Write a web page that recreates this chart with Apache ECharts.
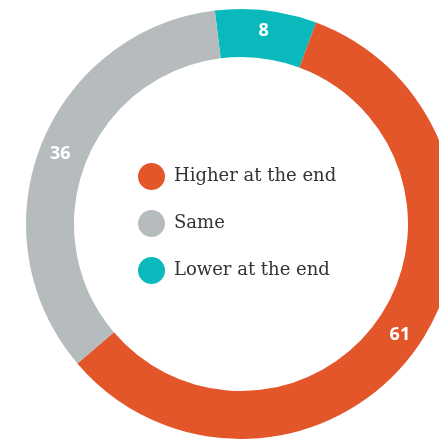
<!DOCTYPE html>
<html><head><meta charset="utf-8">
<script src="https://cdn.jsdelivr.net/npm/echarts@6/dist/echarts.min.js"></script>
<style>html,body{margin:0;padding:0;background:#fff}#c{width:439px;height:441px}</style>
</head><body><div id="c"></div>
<script>
const categories = ['Lower at the end', 'Higher at the end', 'Same'];
const values = [8, 61, 36];
const colors = ['#0AB9BC', '#E25629', '#B6BCBD'];
const legendOrder = ['Higher at the end', 'Same', 'Lower at the end'];

const chart = echarts.init(document.getElementById('c'));
chart.setOption({
  animation: false,
  legend: {
    data: legendOrder,
    orient: 'vertical',
    left: 133,
    top: 158,
    icon: 'circle',
    itemWidth: 27,
    itemHeight: 27,
    itemGap: 20,
    textStyle: { fontFamily: 'DejaVu Serif', fontSize: 18, color: '#333', padding: [0, 0, 0, 4] }
  },
  series: [{
    type: 'pie',
    center: [241, 224],
    radius: [167, 215],
    startAngle: 97,
    clockwise: true,
    avoidLabelOverlap: false,
    label: {
      show: true, position: 'inside', formatter: '{c}',
      color: '#fff', fontFamily: 'Open Sans', fontWeight: 'bold', fontSize: 18
    },
    labelLine: { show: false },
    emphasis: { disabled: true },
    itemStyle: { borderWidth: 0 },
    data: categories.map((n, i) => ({ name: n, value: values[i], itemStyle: { color: colors[i] } }))
  }]
});
</script></body></html>
